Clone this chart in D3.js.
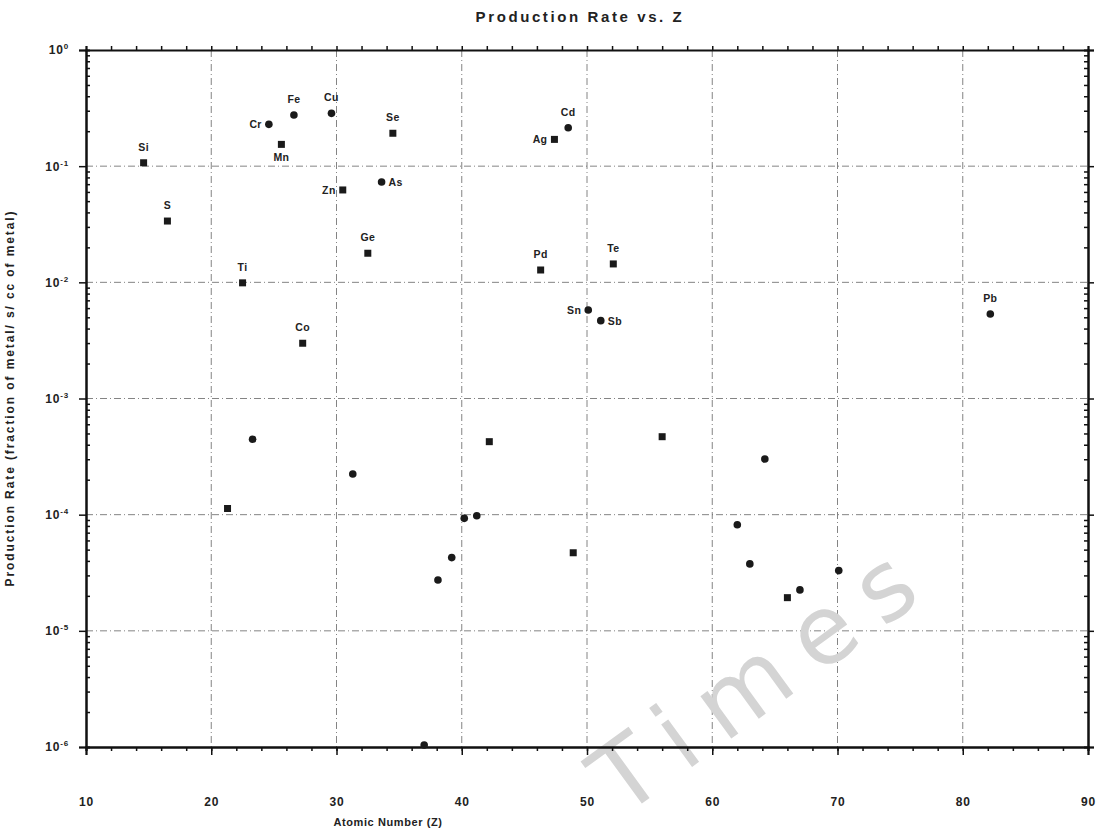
<!DOCTYPE html>
<html lang="en">
  <head>
    <meta charset="utf-8">
    <title>Production Rate vs. Z</title>
    <style>
      body { margin: 0; background: #fff; }
      svg { width: 1102px; height: 836px; display: block; }
      text { font-family: "Liberation Sans", Arial, sans-serif; font-weight: bold; fill: #222; }
      .title { font-size: 15px; letter-spacing: 2.6px; text-anchor: middle; }
      .axis-label { font-size: 11px; letter-spacing: 0.6px; text-anchor: middle; }
      .ylabel { font-size: 12px; letter-spacing: 1.9px; }
      .axis path, .axis line { stroke: #111; }
      .axis path { stroke-width: 2; }
      .axis text { font-size: 12px; letter-spacing: 0.8px; }
      .grid line { stroke: #666; stroke-width: 1; stroke-dasharray: 7,3,1,3; opacity: 0.8; }
      .elem { font-size: 10.5px; letter-spacing: 0.4px; }
      .mark { fill: #1a1a1a; }
      .watermark { font-family: "DejaVu Sans", sans-serif; font-weight: normal; fill: #d4d4d4; font-size: 96px; letter-spacing: 22px; }
    </style>
  </head>
  <body>
    <svg id="chart"></svg>
    <script src="https://d3js.org/d3.v7.min.js"></script>
    <script>
      // labelled elements
      var elements = ["Si", "S", "Ti", "Cr", "Mn", "Fe", "Co", "Cu", "Zn", "Ge", "As", "Se",
                      "Pd", "Ag", "Cd", "Sn", "Sb", "Te", "Pb"];
      var elemZ = [14.6, 16.5, 22.5, 24.6, 25.6, 26.6, 27.3, 29.6, 30.5, 32.5, 33.6, 34.5,
                   46.3, 47.4, 48.5, 50.1, 51.1, 52.1, 82.2];
      var elemRate = [0.107, 0.0337, 0.0099, 0.229, 0.154, 0.276, 0.00299, 0.285, 0.0624, 0.0178, 0.0731, 0.192,
                      0.01277, 0.170, 0.214, 0.00578, 0.00468, 0.0144, 0.00534];
      var elemShape = ["sq", "sq", "sq", "ci", "sq", "ci", "sq", "ci", "sq", "sq", "ci", "sq",
                       "sq", "sq", "ci", "ci", "ci", "sq", "ci"];

      // unlabelled points
      var otherZ = [23.3, 31.3, 21.3, 42.2, 40.2, 41.2, 39.2, 38.1, 37.0,
                    56.0, 64.2, 48.9, 62.0, 63.0, 70.1, 67.0, 66.0];
      var otherRate = [4.46e-4, 2.24e-4, 1.13e-4, 4.25e-4, 9.3e-5, 9.8e-5, 4.27e-5, 2.74e-5, 1.04e-6,
                       4.69e-4, 3.01e-4, 4.70e-5, 8.19e-5, 3.77e-5, 3.30e-5, 2.25e-5, 1.93e-5];
      var otherShape = ["ci", "ci", "sq", "sq", "ci", "ci", "ci", "ci", "ci",
                        "sq", "ci", "sq", "ci", "ci", "ci", "ci", "sq"];

      var xTicks = [10, 20, 30, 40, 50, 60, 70, 80, 90];
      var yExponents = [0, -1, -2, -3, -4, -5, -6];

      // where each element's label sits relative to its marker
      var labelSide = ["t", "t", "t", "l", "b", "t", "t", "t", "l", "t", "r", "t",
                       "t", "l", "t", "l", "r", "t", "t"];

      var svg = d3.select("svg");
      var X0 = 86, X1 = 1088, Y0 = 50, Y1 = 747;

      var x = d3.scaleLinear().domain([10, 90]).range([X0, X1]);
      var y = d3.scaleLog().domain([1e-6, 1]).range([Y1, Y0]);

      var majorY = yExponents.map(e => Math.pow(10, e));
      var minorY = [];
      yExponents.slice(0, -1).forEach(e => {
        for (var k = 2; k <= 9; k++) minorY.push(k * Math.pow(10, e - 1));
      });
      var minorX = d3.range(10, 91, 2);

      // grid
      var grid = svg.append("g").attr("class", "grid");
      grid.selectAll(".gx")
        .data(xTicks.slice(1, -1))
        .enter().append("line")
        .attr("x1", d => x(d)).attr("x2", d => x(d))
        .attr("y1", Y0).attr("y2", Y1);
      grid.selectAll(".gy")
        .data(majorY.slice(1, -1))
        .enter().append("line")
        .attr("x1", X0).attr("x2", X1)
        .attr("y1", d => y(d)).attr("y2", d => y(d));

      // watermark
      svg.append("text")
        .attr("class", "watermark")
        .attr("transform", "translate(622,818) rotate(-36)")
        .text("Times");

      function supLabel(sel) {
        sel.each(function (d) {
          var t = d3.select(this).text("");
          t.append("tspan").text("10");
          t.append("tspan").attr("dy", -5).style("font-size", "8px").text(Math.round(Math.log10(d)));
        });
      }

      // bottom axis
      svg.append("g").attr("class", "axis")
        .attr("transform", "translate(0," + Y1 + ")")
        .call(d3.axisBottom(x).tickValues(xTicks).tickSize(8).tickPadding(42).tickFormat(d3.format("d")));
      svg.append("g").attr("class", "axis")
        .attr("transform", "translate(0," + Y1 + ")")
        .call(d3.axisBottom(x).tickValues(minorX).tickSize(4).tickFormat(""));
      // top axis
      svg.append("g").attr("class", "axis")
        .attr("transform", "translate(0," + Y0 + ")")
        .call(d3.axisTop(x).tickValues(minorX).tickSize(4).tickFormat(""));
      // left axis
      svg.append("g").attr("class", "axis")
        .attr("transform", "translate(" + X0 + ",0)")
        .call(d3.axisLeft(y).tickValues(majorY).tickSize(7).tickPadding(10))
        .selectAll(".tick text").call(supLabel);
      svg.append("g").attr("class", "axis")
        .attr("transform", "translate(" + X0 + ",0)")
        .call(d3.axisRight(y).tickValues(minorY).tickSize(4).tickFormat(""));
      // right axis
      svg.append("g").attr("class", "axis")
        .attr("transform", "translate(" + X1 + ",0)")
        .call(d3.axisLeft(y).tickValues(minorY).tickSize(4).tickFormat(""));
      svg.append("g").attr("class", "axis")
        .attr("transform", "translate(" + X1 + ",0)")
        .call(d3.axisRight(y).tickValues(majorY).tickSize(6).tickFormat(""));

      svg.selectAll(".axis .tick line").attr("stroke-width", 1.5);

      // markers
      var pts = elements.map((e, i) => ({ name: e, z: elemZ[i], v: elemRate[i], shape: elemShape[i], side: labelSide[i] }))
        .concat(otherZ.map((z, i) => ({ name: null, z: z, v: otherRate[i], shape: otherShape[i] })));

      var marks = svg.append("g");
      marks.selectAll("rect")
        .data(pts.filter(d => d.shape === "sq"))
        .enter().append("rect")
        .attr("class", "mark")
        .attr("x", d => x(d.z) - 3.5)
        .attr("y", d => y(d.v) - 3.5)
        .attr("width", 7).attr("height", 7);
      marks.selectAll("circle")
        .data(pts.filter(d => d.shape === "ci"))
        .enter().append("circle")
        .attr("class", "mark")
        .attr("cx", d => x(d.z))
        .attr("cy", d => y(d.v))
        .attr("r", 3.8);

      // element labels
      var off = { t: [0, -12, "middle"], b: [0, 17, "middle"], l: [-7, 4, "end"], r: [7, 4, "start"] };
      svg.append("g").selectAll("text")
        .data(pts.filter(d => d.name))
        .enter().append("text")
        .attr("class", "elem")
        .attr("x", d => x(d.z) + off[d.side][0])
        .attr("y", d => y(d.v) + off[d.side][1])
        .attr("text-anchor", d => off[d.side][2])
        .text(d => d.name);

      // titles
      svg.append("text").attr("class", "title")
        .attr("x", 580).attr("y", 22)
        .text("Production Rate vs. Z");
      svg.append("text").attr("class", "axis-label")
        .attr("x", 388).attr("y", 826)
        .text("Atomic Number (Z)");
      svg.append("text").attr("class", "axis-label ylabel")
        .attr("transform", "translate(14,398) rotate(-90)")
        .text("Production Rate (fraction of metal/ s/ cc of metal)");
    </script>
  </body>
</html>
